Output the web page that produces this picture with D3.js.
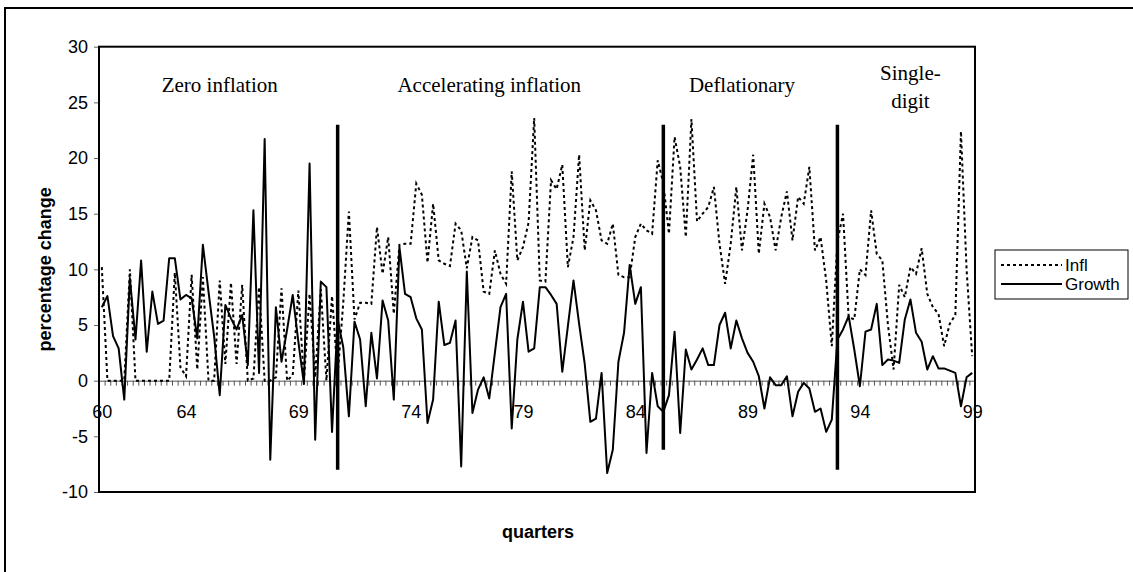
<!DOCTYPE html>
<html>
<head>
<meta charset="utf-8">
<script src="https://cdn.jsdelivr.net/npm/d3@7"></script>
<style>
  html, body { margin: 0; padding: 0; background: #fff; }
  svg { display: block; }
</style>
</head>
<body>
<svg id="chart" width="1133" height="572"></svg>
<script>
// ---------- DATA ----------
// quarterly observations (156 quarters), year labels shown at selected quarters
const tickLabels  = ["60", "64", "69", "74", "79", "84", "89", "94", "99"];
const tickIndices = [0, 15, 35, 55, 75, 95, 115, 135, 155];

const infl = [
  10.2, 0, 0, 0, 0, 10.0, 0, 0, 0, 0,
  0, 0, 0, 9.7, 1.2, 0.4, 9.5, 1.0, 9.3, 0,
  0, 9.0, 1.5, 8.8, 1.5, 8.6, 0, 0.2, 8.4, 0,
  0, 0.3, 8.3, 0, 0.5, 8.1, 0, 7.8, 0.3, 8.2,
  0, 7.6, 0.5, 7.0, 15.2, 5.5, 7.0, 7.0, 6.9, 13.8,
  9.6, 12.9, 6.0, 12.2, 12.3, 12.3, 17.7, 16.7, 10.6, 15.9,
  10.8, 10.5, 10.3, 14.1, 13.5, 10.1, 12.9, 12.6, 8.0, 7.8,
  11.7, 9.6, 8.7, 18.8, 10.8, 12.0, 14.2, 23.6, 9.0, 8.9,
  18.0, 17.2, 19.4, 10.2, 12.9, 20.3, 11.7, 16.2, 15.3, 12.6,
  12.3, 14.1, 9.5, 9.3, 9.3, 12.9, 14.1, 13.5, 13.2, 19.8,
  17.7, 13.2, 21.9, 19.2, 12.9, 23.5, 14.3, 15.0, 15.6, 17.4,
  12.3, 8.7, 12.3, 17.4, 11.7, 15.3, 20.3, 11.4, 15.9, 14.7,
  11.7, 14.7, 17.0, 12.6, 16.5, 15.9, 19.2, 11.7, 12.9, 9.0,
  3.1, 12.5, 15.0, 5.7, 5.5, 10.0, 9.5, 15.3, 11.4, 10.8,
  5.0, 1.0, 8.6, 7.5, 10.2, 9.6, 11.9, 7.8, 6.6, 6.0,
  3.1, 5.1, 5.9, 22.4, 10.0, 2.2
];

const growth = [
  6.6, 7.6, 4.0, 2.9, -1.7, 9.2, 3.7, 10.8, 2.6, 8.0,
  5.1, 5.4, 11.0, 11.0, 7.3, 7.7, 7.4, 3.8, 12.2, 8.0,
  4.0, -1.3, 6.8, 5.6, 4.6, 5.9, 1.4, 15.3, 0.7, 21.7,
  -7.1, 6.6, 1.7, 4.6, 7.7, 3.5, -0.3, 19.5, -5.3, 8.9,
  8.4, -4.6, 5.5, 3.0, -3.2, 5.3, 3.7, -2.3, 4.3, 0.2,
  7.2, 5.4, -1.7, 12.0, 7.8, 7.5, 5.6, 4.6, -3.8, -1.7,
  7.1, 3.2, 3.4, 5.4, -7.7, 9.8, -2.9, -0.8, 0.3, -1.6,
  2.5, 6.6, 7.8, -4.3, 3.7, 7.1, 2.6, 2.9, 8.4, 8.4,
  7.7, 6.9, 0.8, 4.9, 9.0, 5.1, 1.5, -3.7, -3.4, 0.7,
  -8.3, -6.2, 1.7, 4.3, 10.4, 6.9, 8.4, -6.5, 0.7, -2.3,
  -2.8, -1.3, 4.4, -4.7, 2.8, 1.0, 1.9, 2.9, 1.4, 1.4,
  5.0, 6.1, 2.9, 5.4, 3.8, 2.5, 1.7, 0.4, -2.5, 0.3,
  -0.4, -0.4, 0.4, -3.2, -1.0, -0.2, -0.7, -2.8, -2.5, -4.6,
  -3.5, 3.7, 4.6, 5.8, 2.8, -0.5, 4.4, 4.6, 6.9, 1.4,
  1.9, 1.8, 1.6, 5.5, 7.3, 4.3, 3.5, 1.0, 2.2, 1.1,
  1.1, 0.9, 0.7, -2.3, 0.3, 0.7
];

// regime dividers (quarter index) with their vertical extent
const breakIndex  = [42, 100, 131];
const breakTop    = [23, 23, 23];
const breakBottom = [-8, -6.2, -8];

// regime labels: text lines and the quarter index they centre on
const regimeNames  = [["Zero inflation"], ["Accelerating inflation"], ["Deflationary"], ["Single-", "digit"]];
const regimeCentre = [21, 69, 114, 144];

const seriesNames = ["Infl", "Growth"];
const yTicks = [-10, -5, 0, 5, 10, 15, 20, 25, 30];

// ---------- LAYOUT ----------
const n = growth.length;
const svg = d3.select("#chart");
const L = 99, R = 975, T = 46.7, B = 492;
const SANS = "'Liberation Sans', Arial, sans-serif";
const SERIF = "'Liberation Serif', 'Times New Roman', serif";

const x = d3.scaleBand().domain(d3.range(n)).range([L, R]).padding(0);
const xc = i => x(i) + x.bandwidth() / 2;
const xEdge = d3.scaleLinear().domain([0, n]).range([L, R]);
const y = d3.scaleLinear().domain([-10, 30]).range([B, T]);

// outer chart border
svg.append("rect").attr("x", 5).attr("y", 8).attr("width", 1140).attr("height", 580)
  .attr("fill", "none").attr("stroke", "#000").attr("stroke-width", 2);

// y axis
const yAxis = svg.append("g").attr("transform", `translate(${L},0)`)
  .call(d3.axisLeft(y).tickValues(yTicks).tickSize(5).tickPadding(6).tickFormat(d => String(d)));
yAxis.select(".domain").remove();
yAxis.selectAll(".tick line").attr("stroke", "#666");
yAxis.selectAll(".tick text").attr("font-family", SANS).attr("font-size", 18).attr("fill", "#000");

// x axis on the zero line: ticks at every quarter boundary
const xAxisTicks = svg.append("g").attr("transform", `translate(0,${y(0)})`)
  .call(d3.axisBottom(xEdge).tickValues(d3.range(0, n + 1)).tickSize(5).tickFormat(""));
xAxisTicks.select(".domain").attr("stroke", "#555").attr("stroke-width", 1);
xAxisTicks.selectAll(".tick line").attr("stroke", "#555");

// x labels
const xLab = svg.append("g").attr("transform", `translate(0,${y(0)})`)
  .call(d3.axisBottom(d3.scaleLinear().domain([0, n - 1]).range([xc(0), xc(n - 1)]))
    .tickValues(tickIndices).tickSize(0).tickPadding(25)
    .tickFormat((d, i) => tickLabels[i]));
xLab.select(".domain").remove();
xLab.selectAll(".tick text").attr("font-family", SANS).attr("font-size", 18).attr("fill", "#000");

// plot area border
svg.append("rect").attr("x", L).attr("y", T).attr("width", R - L).attr("height", B - T)
  .attr("fill", "none").attr("stroke", "#000").attr("stroke-width", 2);

// lines
const line = d3.line().x((d, i) => xc(i)).y(d => y(d));
svg.append("path").datum(infl).attr("d", line)
  .attr("fill", "none").attr("stroke", "#000").attr("stroke-width", 2)
  .attr("stroke-dasharray", "3,3");
svg.append("path").datum(growth).attr("d", line)
  .attr("fill", "none").attr("stroke", "#000").attr("stroke-width", 2)
  .attr("stroke-linejoin", "round");

// regime dividers
svg.selectAll("line.brk").data(breakIndex).enter().append("line")
  .attr("class", "brk")
  .attr("x1", d => xc(d)).attr("x2", d => xc(d))
  .attr("y1", (d, i) => y(breakTop[i])).attr("y2", (d, i) => y(breakBottom[i]))
  .attr("stroke", "#000").attr("stroke-width", 3.5);

// regime labels
regimeNames.forEach((lines, k) => {
  const t = svg.append("text").attr("x", xc(regimeCentre[k]))
    .attr("y", lines.length > 1 ? 80 : 92)
    .attr("text-anchor", "middle").attr("font-family", SERIF).attr("font-size", 21).attr("fill", "#000");
  lines.forEach((s, j) => {
    t.append("tspan").attr("x", xc(regimeCentre[k])).attr("dy", j === 0 ? 0 : 28).text(s);
  });
});

// axis titles
svg.append("text").attr("x", 538).attr("y", 538).attr("text-anchor", "middle")
  .attr("font-family", SANS).attr("font-weight", "bold").attr("font-size", 18).text("quarters");
svg.append("text").attr("transform", `translate(51,${(T + B) / 2}) rotate(-90)`)
  .attr("text-anchor", "middle").attr("font-family", SANS).attr("font-weight", "bold")
  .attr("font-size", 18).text("percentage change");

// legend
const lg = svg.append("g");
lg.append("rect").attr("x", 995).attr("y", 250).attr("width", 133).attr("height", 49)
  .attr("fill", "#fff").attr("stroke", "#000").attr("stroke-width", 1);
const legY = [265, 284];
seriesNames.forEach((s, k) => {
  lg.append("line").attr("x1", 1001).attr("x2", 1062).attr("y1", legY[k]).attr("y2", legY[k])
    .attr("stroke", "#000").attr("stroke-width", 2)
    .attr("stroke-dasharray", k === 0 ? "3,3" : null);
  lg.append("text").attr("x", 1065).attr("y", legY[k] + 6)
    .attr("font-family", SANS).attr("font-size", 17).text(s);
});
</script>
</body>
</html>
